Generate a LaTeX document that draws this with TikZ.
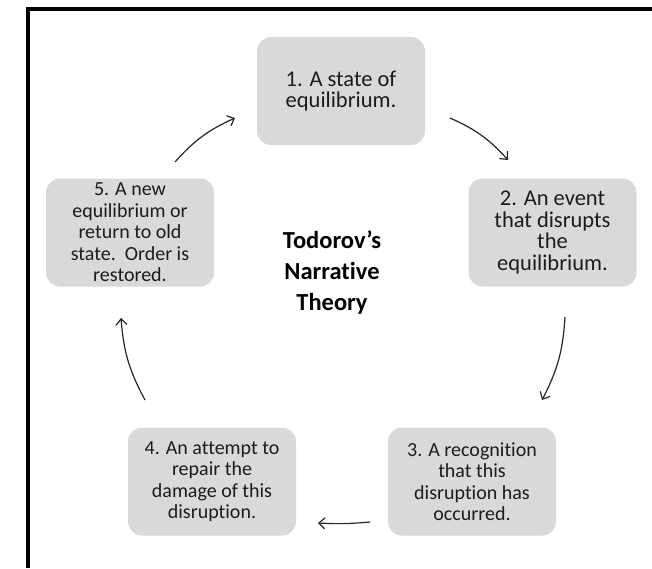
\documentclass[tikz,border=0pt]{standalone}
\usepackage{fontspec}
\setmainfont{Carlito}[Ligatures=NoCommon]
\usetikzlibrary{arrows.meta}
\definecolor{boxgray}{RGB}{217,217,217}
\definecolor{txt}{RGB}{28,28,28}
\begin{document}
\begin{tikzpicture}[x=1pt,y=-1pt,
  stage/.style={draw=none, fill=boxgray, rounded corners=14pt, minimum width=168pt, minimum height=108pt, inner sep=0pt, align=center, text=txt},
  big/.style={font=\fontsize{22.5}{21.5}\selectfont},
  small/.style={font=\fontsize{20}{21.5}\selectfont},
  cyc/.style={-{Straight Barb[length=6pt,width=11pt]}, line width=1.2pt, draw=black!85}
]
\useasboundingbox (0,0) rectangle (652,568);
\draw[line width=4pt] (652,9) -- (28,9) -- (28,568);

\node[stage, big] (s1) at (341,91) {1. A state of\\equilibrium.};
\node[stage, big] (s2) at (552.5,232.5) {2. An event\\that disrupts\\the\\equilibrium.};
\node[stage, small] (s3) at (472,481.5) {3. A recognition\\that this\\disruption has\\occurred.};
\node[stage, small] (s4) at (212,481.5) {4. An attempt to\\repair the\\damage of this\\disruption.};
\node[stage, small] (s5) at (130,232.5) {5. A new\\equilibrium or\\return to old\\state.\ \ Order is\\restored.};

\node[font=\bfseries\fontsize{24.5}{31}\selectfont, align=center, text=black] (title) at (332,273) {Todorov’s\\Narrative\\Theory};

\coordinate (a1s) at (175,162); \coordinate (a1e) at (235,118);
\coordinate (a2s) at (450,118); \coordinate (a2e) at (508,160);
\coordinate (a3s) at (565,317); \coordinate (a3e) at (542,400);
\coordinate (a4s) at (370,522); \coordinate (a4e) at (318,523);
\coordinate (a5s) at (145,400); \coordinate (a5e) at (121,318);

\draw[cyc] (a1s) to[bend left=12] (a1e);
\draw[cyc] (a2s) to[bend left=12] (a2e);
\draw[cyc] (a3s) to[bend left=12] (a3e);
\draw[cyc] (a4s) to[bend left=4] (a4e);
\draw[cyc] (a5s) to[bend left=12] (a5e);
\end{tikzpicture}
\end{document}
